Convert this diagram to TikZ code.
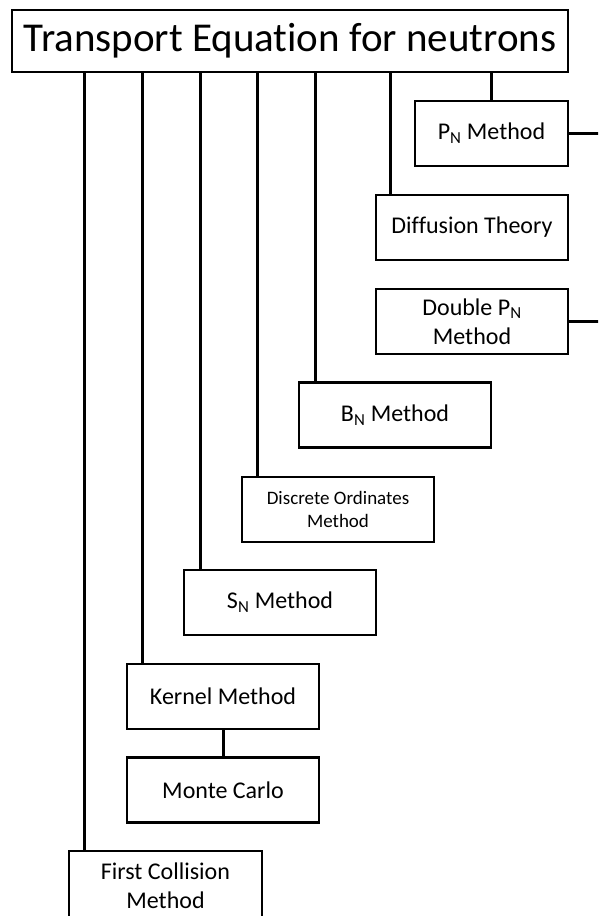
\documentclass[tikz,border=0pt]{standalone}
\usepackage{fontspec}
\setmainfont{Carlito}[Ligatures={NoCommon,NoContextual}]
\begin{document}
\begin{tikzpicture}[x=1pt,y=-1pt,
  box/.style={draw=black,line width=2.2pt,fill=white,inner sep=0pt,align=center,
    minimum width=192pt,minimum height=65pt,font=\fontsize{24}{29}\selectfont},
  link/.style={line width=3pt}]
\useasboundingbox (0,0) rectangle (598,916);
\begin{scope}
\clip (0,0) rectangle (598,916);
\coordinate (edge) at (600,0);
\node[box,minimum width=556pt,minimum height=62pt,font=\fontsize{41}{45}\selectfont] (top) at (290,41) {Transport Equation for neutrons};
\node[box,minimum width=153pt] (pn) at (491.5,133.5) {P\textsubscript{N} Method};
\node[box] (diff) at (472,227.5) {Diffusion Theory};
\node[box] (dpn) at (472,321.5) {Double P\textsubscript{N}\\Method};
\node[box] (bn) at (395,415) {B\textsubscript{N} Method};
\node[box,font=\fontsize{19}{23}\selectfont] (dom) at (338,509.5) {Discrete Ordinates\\Method};
\node[box] (sn) at (280,602.5) {S\textsubscript{N} Method};
\node[box] (kern) at (223,696.5) {Kernel Method};
\node[box] (mc) at (223,790) {Monte Carlo};
\node[box,minimum width=193pt,minimum height=70pt] (fc) at (165.5,886) {First Collision\\Method};
\draw[link] (pn.north) -- (pn.north |- top.south);
\draw[link] ([xshift=16pt]diff.north west) -- ([xshift=16pt]diff.north west |- top.south);
\draw[link] ([xshift=18pt]bn.north west) -- ([xshift=18pt]bn.north west |- top.south);
\draw[link] ([xshift=17pt]dom.north west) -- ([xshift=17pt]dom.north west |- top.south);
\draw[link] ([xshift=18pt]sn.north west) -- ([xshift=18pt]sn.north west |- top.south);
\draw[link] ([xshift=17pt]kern.north west) -- ([xshift=17pt]kern.north west |- top.south);
\draw[link] ([xshift=17pt]fc.north west) -- ([xshift=17pt]fc.north west |- top.south);
\draw[link] (kern.south) -- (mc.north);
\draw[link] (pn.east) -- (pn.east -| edge);
\draw[link] (dpn.east) -- (dpn.east -| edge);
\end{scope}
\end{tikzpicture}
\end{document}
